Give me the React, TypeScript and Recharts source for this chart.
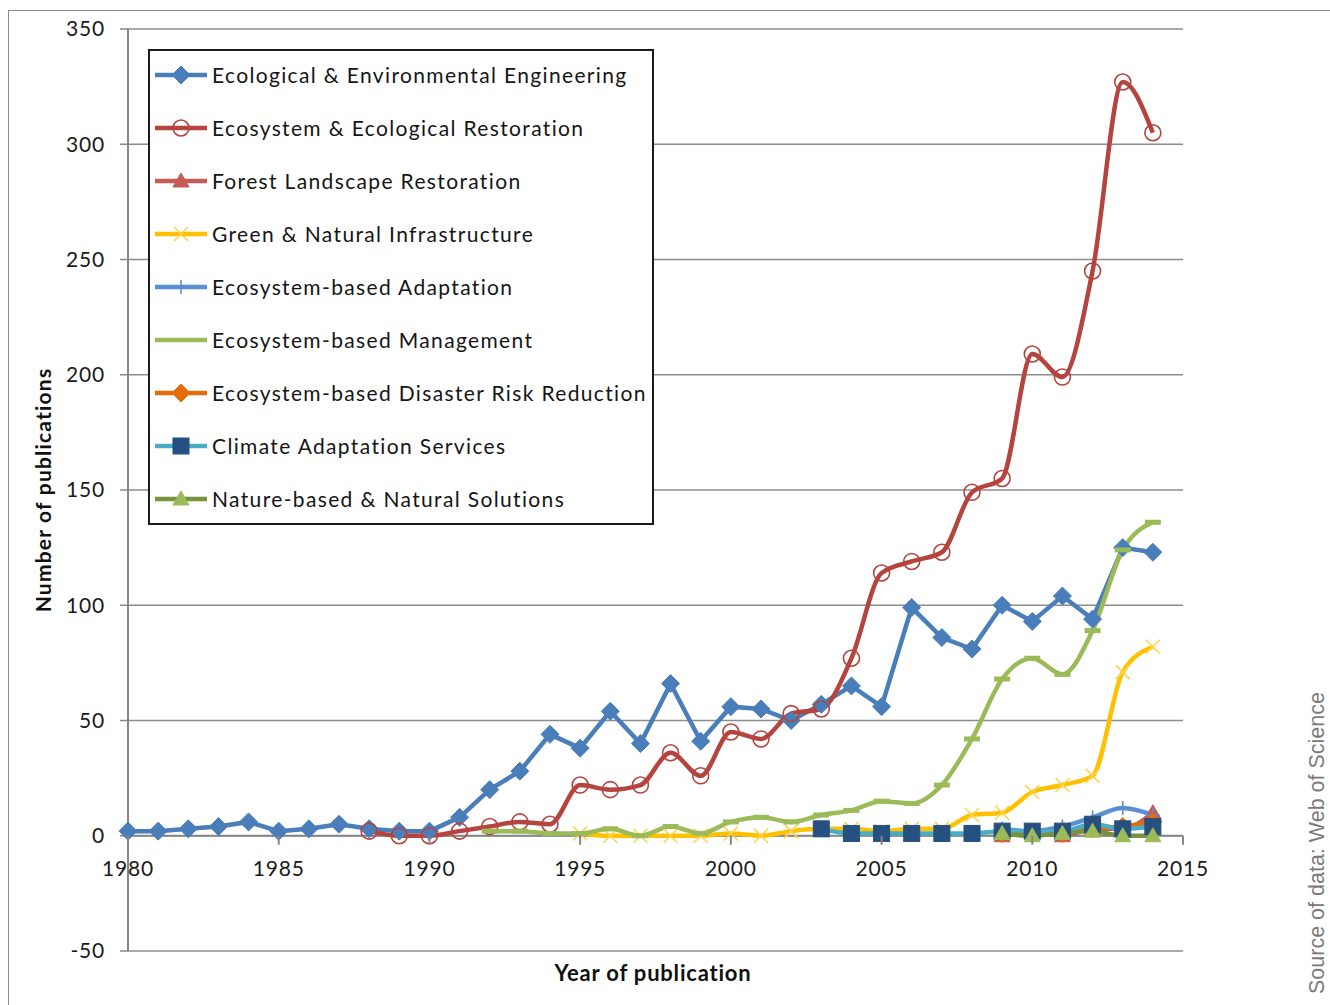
import React from 'react';
import { LineChart, Line, XAxis, YAxis, CartesianGrid, ReferenceLine } from 'recharts';

const YEARS = [
  1980, 1981, 1982, 1983, 1984, 1985, 1986, 1987, 1988, 1989,
  1990, 1991, 1992, 1993, 1994, 1995, 1996, 1997, 1998, 1999,
  2000, 2001, 2002, 2003, 2004, 2005, 2006, 2007, 2008, 2009,
  2010, 2011, 2012, 2013, 2014,
];
const X_TICKS = [1980, 1985, 1990, 1995, 2000, 2005, 2010, 2015];
const Y_TICKS = [-50, 0, 50, 100, 150, 200, 250, 300, 350];

// values per series, each one starting at its own first year
const ECO_ENG_START = 1980;
const ECO_ENG = [
  2, 2, 3, 4, 6, 2, 3, 5, 3, 2,
  2, 8, 20, 28, 44, 38, 54, 40, 66, 41,
  56, 55, 50, 57, 65, 56, 99, 86, 81, 100,
  93, 104, 94, 125, 123,
];
const ECO_REST_START = 1988;
const ECO_REST = [
  2, 0, 0, 2, 4, 6, 5, 22, 20, 22, 36, 26,
  45, 42, 53, 55, 77, 114, 119, 123, 149, 155,
  209, 199, 245, 327, 305,
];
const FOREST_START = 2009;
const FOREST = [0, 2, 0, 3, 3, 10];
const GREEN_INFRA_START = 1995;
const GREEN_INFRA = [1, 0, 0, 0, 0, 1, 0, 2, 3, 3, 2, 3, 3, 9, 10, 19, 22, 26, 71, 82];
const EBA_START = 2009;
const EBA = [3, 2, 4, 8, 12, 9];
const EBM_START = 1992;
const EBM = [2, 2, 1, 1, 3, 0, 4, 1, 6, 8, 6, 9, 11, 15, 14, 22, 42, 68, 77, 70, 89, 124, 136];
const ECO_DRR_START = 2009;
const ECO_DRR = [1, 1, 1, 3, 4, 6];
const CLIMATE_START = 2003;
const CLIMATE = [3, 1, 1, 1, 1, 1, 2, 2, 2, 5, 3, 4];
const NATURE_START = 2009;
const NATURE = [1, 0, 1, 2, 0, 0];

type MarkerKind = 'diamond' | 'circle' | 'triangle' | 'x' | 'plus' | 'dash' | 'square' | 'none';

const SERIES = [
  { key: 'eng', name: 'Ecological & Environmental Engineering', start: ECO_ENG_START, values: ECO_ENG,
    line: '#4A7EBB', marker: 'diamond' as MarkerKind, mColor: '#4A7EBB', curve: 'linear' },
  { key: 'rest', name: 'Ecosystem & Ecological Restoration', start: ECO_REST_START, values: ECO_REST,
    line: '#B5443F', marker: 'circle' as MarkerKind, mColor: '#B5443F', curve: 'monotone' },
  { key: 'forest', name: 'Forest Landscape Restoration', start: FOREST_START, values: FOREST,
    line: '#C55A57', marker: 'triangle' as MarkerKind, mColor: '#C55A57', curve: 'monotone' },
  { key: 'infra', name: 'Green & Natural Infrastructure', start: GREEN_INFRA_START, values: GREEN_INFRA,
    line: '#FFC000', marker: 'x' as MarkerKind, mColor: '#FFD24D', curve: 'monotone' },
  { key: 'eba', name: 'Ecosystem-based Adaptation', start: EBA_START, values: EBA,
    line: '#5B8FD3', marker: 'plus' as MarkerKind, mColor: '#5B8FD3', curve: 'monotone' },
  { key: 'ebm', name: 'Ecosystem-based Management', start: EBM_START, values: EBM,
    line: '#9BBB59', marker: 'dash' as MarkerKind, mColor: '#9BBB59', curve: 'monotone' },
  { key: 'drr', name: 'Ecosystem-based Disaster Risk Reduction', start: ECO_DRR_START, values: ECO_DRR,
    line: '#E46C0A', marker: 'diamond' as MarkerKind, mColor: '#E46C0A', curve: 'monotone' },
  { key: 'cas', name: 'Climate Adaptation Services', start: CLIMATE_START, values: CLIMATE,
    line: '#4BACC6', marker: 'square' as MarkerKind, mColor: '#25507F', curve: 'monotone' },
  { key: 'nbs', name: 'Nature-based & Natural Solutions', start: NATURE_START, values: NATURE,
    line: '#77933C', marker: 'triangle' as MarkerKind, mColor: '#9BBB59', curve: 'monotone' },
];

const data = YEARS.map((year) => {
  const row: Record<string, number | null> = { year };
  for (const s of SERIES) {
    const i = year - s.start;
    row[s.key] = i >= 0 && i < s.values.length ? s.values[i] : null;
  }
  return row;
});

// layout
const W = 1330;
const H = 1005;
const PLOT_TOP = 29;
const PLOT_BOTTOM = 951;
const PLOT_LEFT = 128;
const PLOT_RIGHT = 1183;
const Y_MIN = -50;
const Y_MAX = 350;
const ZERO_SHIFT = (PLOT_BOTTOM - PLOT_TOP) * (0 - Y_MIN) / (Y_MAX - Y_MIN);
const FONT = 'Lato, "Open Sans", sans-serif';

function Marker({ kind, cx, cy, color }: { kind: MarkerKind; cx: number; cy: number; color: string }) {
  switch (kind) {
    case 'diamond':
      return <polygon points={`${cx},${cy - 9} ${cx + 9},${cy} ${cx},${cy + 9} ${cx - 9},${cy}`} fill={color} stroke={color} strokeWidth={1} />;
    case 'circle':
      return <circle cx={cx} cy={cy} r={8} fill="none" stroke={color} strokeWidth={1.6} />;
    case 'triangle':
      return <polygon points={`${cx},${cy - 8} ${cx + 8},${cy + 6} ${cx - 8},${cy + 6}`} fill={color} stroke={color} strokeWidth={1} />;
    case 'x':
      return (
        <g stroke={color} strokeWidth={1.6}>
          <line x1={cx - 7} y1={cy - 7} x2={cx + 7} y2={cy + 7} />
          <line x1={cx - 7} y1={cy + 7} x2={cx + 7} y2={cy - 7} />
        </g>
      );
    case 'plus':
      return (
        <g stroke={color} strokeWidth={1.6}>
          <line x1={cx - 7} y1={cy} x2={cx + 7} y2={cy} />
          <line x1={cx} y1={cy - 7} x2={cx} y2={cy + 7} />
        </g>
      );
    case 'dash':
      return <line x1={cx - 8} y1={cy} x2={cx + 8} y2={cy} stroke={color} strokeWidth={5} />;
    case 'square':
      return <rect x={cx - 8} y={cy - 8} width={16} height={16} fill={color} stroke={color} strokeWidth={1} />;
    default:
      return null;
  }
}

function XTick(props: any) {
  const { x, y, payload } = props;
  const axisY = y - ZERO_SHIFT;
  return (
    <g>
      <line x1={x} y1={axisY} x2={x} y2={axisY + 9} stroke="#868686" strokeWidth={2} />
      <text x={x} y={axisY + 40} textAnchor="middle" fontSize={21} letterSpacing={0.8} fontFamily={FONT} fill="#1a1a1a">
        {payload.value}
      </text>
    </g>
  );
}

function LegendBox() {
  return (
    <div
      style={{
        position: 'absolute',
        left: 148,
        top: 49,
        width: 506,
        height: 476,
        boxSizing: 'border-box',
        border: '2px solid #1a1a1a',
        background: '#fff',
        overflow: 'hidden',
      }}
    >
      <div style={{ position: 'relative', top: -3 }}>
        {SERIES.map((s) => (
          <div key={s.key} style={{ height: 53, display: 'flex', alignItems: 'center' }}>
            <svg width={57} height={24} style={{ marginLeft: 5, flex: 'none' }}>
              <line x1={0} y1={12} x2={52} y2={12} stroke={s.line} strokeWidth={4.5} />
              <Marker kind={s.marker === 'dash' ? 'none' : s.marker} cx={26} cy={12} color={s.mColor} />
            </svg>
            <span
              style={{
                fontFamily: FONT,
                fontSize: 21,
                color: '#151515',
                letterSpacing: 1.35,
                whiteSpace: 'nowrap',
              }}
            >
              {s.name}
            </span>
          </div>
        ))}
      </div>
    </div>
  );
}

export default function App() {
  return (
    <div style={{ position: 'fixed', left: 0, top: 0, width: W, height: H, overflow: 'hidden', background: '#fff' }}>
      {/* chart area frame */}
      <div
        style={{
          position: 'absolute', left: 8, top: 10, width: 2000, height: 2000,
          borderLeft: '1.5px solid #8a8a8a', borderTop: '1.5px solid #8a8a8a',
        }}
      />
      <div style={{ position: 'absolute', left: 0, top: 0 }}>
        <LineChart
          width={W}
          height={H}
          data={data}
          margin={{ top: PLOT_TOP, right: W - PLOT_RIGHT, bottom: H - PLOT_BOTTOM - 1, left: 0 }}
        >
          <CartesianGrid vertical={false} stroke="#8c8c8c" strokeWidth={1.5} />
          <XAxis
            dataKey="year"
            type="number"
            domain={[1980, 2015]}
            ticks={X_TICKS}
            height={1}
            axisLine={false}
            tickLine={false}
            tickSize={0}
            tickMargin={0}
            tick={<XTick />}
            interval={0}
          />
          <YAxis
            type="number"
            domain={[Y_MIN, Y_MAX]}
            ticks={Y_TICKS}
            width={PLOT_LEFT}
            interval={0}
            axisLine={{ stroke: '#868686', strokeWidth: 2 }}
            tickLine={{ stroke: '#868686', strokeWidth: 1.5 }}
            tickSize={8}
            tickMargin={15}
            tick={{ fontSize: 21, fontFamily: FONT, fill: '#1a1a1a', letterSpacing: 0.8 }}
          />
          <ReferenceLine y={0} stroke="#868686" strokeWidth={2} />
          {SERIES.map((s) => (
            <Line
              key={s.key}
              dataKey={s.key}
              name={s.name}
              type={s.curve as any}
              stroke={s.line}
              strokeWidth={4.5}
              isAnimationActive={false}
              dot={(p: any) =>
                p.cx == null || p.cy == null || p.value == null ? (
                  <g key={`${s.key}-${p.index}`} />
                ) : (
                  <g key={`${s.key}-${p.index}`}>
                    <Marker kind={s.marker} cx={p.cx} cy={p.cy} color={s.mColor} />
                  </g>
                )
              }
              activeDot={false}
            />
          ))}
        </LineChart>
      </div>
      <LegendBox />
      <div
        style={{
          position: 'absolute', left: 42, top: 490, transform: 'translate(-50%, -50%) rotate(-90deg)',
          fontFamily: FONT, fontWeight: 700, fontSize: 21, letterSpacing: 1.2, color: '#111', whiteSpace: 'nowrap',
        }}
      >
        Number of publications
      </div>
      <div
        style={{
          position: 'absolute', left: 653, top: 972, transform: 'translate(-50%, -50%)',
          fontFamily: FONT, fontWeight: 700, fontSize: 22, letterSpacing: 0.8, color: '#111', whiteSpace: 'nowrap',
        }}
      >
        Year of publication
      </div>
      <div
        style={{
          position: 'absolute', left: 1317, top: 843, transform: 'translate(-50%, -50%) rotate(-90deg)',
          fontFamily: '"Liberation Sans", Arial, sans-serif', fontSize: 21.5, color: '#7a7a7a', whiteSpace: 'nowrap',
        }}
      >
        Source of data: Web of Science
      </div>
    </div>
  );
}
